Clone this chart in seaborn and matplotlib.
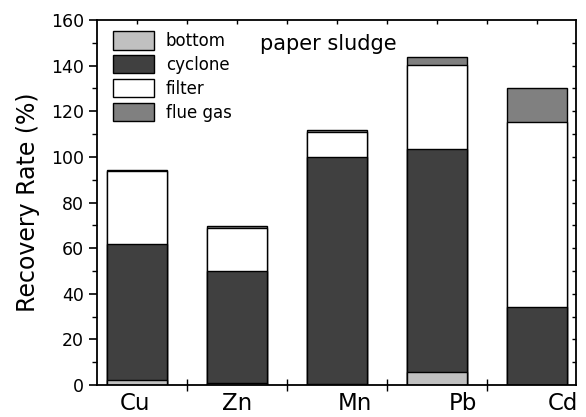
import numpy as np
import pandas as pd
import seaborn as sns
import matplotlib
matplotlib.use("Agg")
import matplotlib.pyplot as plt
from matplotlib.patches import Patch

# Recovery rate (%) of each metal, split by where it was collected
metals = ["Cu", "Zn", "Mn", "Pb", "Cd"]
bottom = [2.0, 1.0, 0.3, 5.6, 0.2]
cyclone = [60.0, 49.0, 99.7, 97.7, 33.8]
filt = [31.8, 19.0, 10.8, 37.0, 81.3]
flue_gas = [0.4, 0.6, 0.9, 3.7, 14.9]

layers = ["bottom", "cyclone", "filter", "flue gas"]
layer_values = [bottom, cyclone, filt, flue_gas]
layer_colors = ["#c0c0c0", "#404040", "#ffffff", "#808080"]

sns.set_theme(style="white")
plt.rcParams["font.family"] = ["DejaVu Sans"]
plt.rcParams["text.color"] = "black"
plt.rcParams["axes.labelcolor"] = "black"

fig = plt.figure(figsize=(5.86, 4.17), dpi=100)
ax = fig.add_axes([0.1655, 0.0767, 0.8175, 0.8753])

# Stacked bars: draw cumulative totals from the top layer down
cum = np.cumsum(np.array(layer_values), axis=0)
for i in range(len(layers) - 1, -1, -1):
    df = pd.DataFrame({"metal": metals, "value": cum[i]})
    sns.barplot(data=df, x="metal", y="value", order=metals, color=layer_colors[i],
                saturation=1, width=0.6, edgecolor="black", linewidth=1.0, ax=ax)

ax.set_xlim(-0.4, 4.39)
ax.set_ylim(0, 160)
ax.set_xlabel("")
ax.set_ylabel("Recovery Rate (%)", fontsize=17, labelpad=8, color="black")

# y axis ticks
ax.set_yticks(np.arange(0, 161, 20))
ax.set_yticks(np.arange(10, 160, 20), minor=True)
ax.tick_params(axis="y", which="major", direction="out", length=6, width=1.2,
               labelsize=12.5, colors="black", left=True)
ax.tick_params(axis="y", which="minor", direction="out", length=3.5, width=1.0,
               colors="black", left=True)

# x axis: category labels, separator ticks between bars
label_pos = [-0.02, 1.0, 2.18, 3.26, 4.26]
ax.set_xticks(label_pos, metals)
ax.set_xticks([0.5, 1.5, 2.5, 3.5], minor=True)
ax.tick_params(axis="x", which="major", length=0, labelsize=16.5, pad=5,
               colors="black", bottom=True)
ax.tick_params(axis="x", which="minor", direction="inout", length=8, width=1.0,
               colors="black", bottom=True)

# inner tick marks on top and right edges
top = ax.secondary_xaxis("top")
top.set_xticks(np.arange(0, 4.4, 0.5))
top.tick_params(direction="in", length=3, width=1.0, labeltop=False, colors="black")
top.spines["top"].set_visible(False)
right = ax.secondary_yaxis("right")
right.set_yticks(np.arange(10, 160, 10))
right.tick_params(direction="in", length=3, width=1.0, labelright=False, colors="black")
right.spines["right"].set_visible(False)

for s in ax.spines.values():
    s.set_color("black")
    s.set_linewidth(1.3)

ax.text(0.34, 0.934, "paper sludge", transform=ax.transAxes, fontsize=15,
        ha="left", va="center", color="black")

handles = [Patch(facecolor=c, edgecolor="black", linewidth=1.0) for c in layer_colors]
leg = ax.legend(handles, layers, loc="upper left", bbox_to_anchor=(0.01, 1.0),
                frameon=False, fontsize=12, handlelength=2.5, handleheight=1.35,
                labelspacing=0.3, handletextpad=0.7, borderaxespad=0.25)
for t in leg.get_texts():
    t.set_color("black")

fig.savefig("out.png", dpi=100)
